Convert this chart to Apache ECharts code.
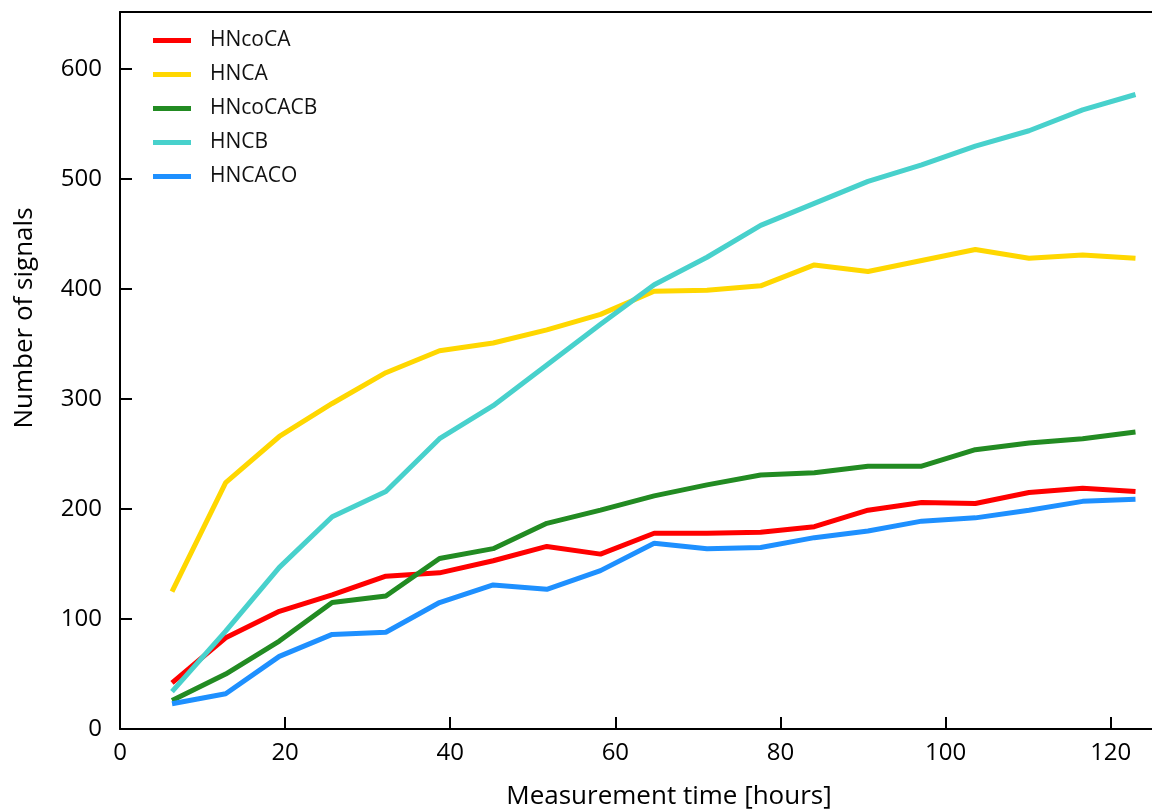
<!DOCTYPE html>
<html>
<head>
<meta charset="utf-8">
<script src="https://cdn.jsdelivr.net/npm/echarts@6/dist/echarts.min.js"></script>
<style>
html,body{margin:0;padding:0;background:#fff;}
#chart{width:1152px;height:809px;}
</style>
</head>
<body>
<div id="chart"></div>
<script>
// Measurement times (hours)
const times = [6.3, 12.8, 19.3, 25.7, 32.2, 38.7, 45.2, 51.7, 58.2, 64.7, 71.1, 77.6, 84.1, 90.6, 97.1, 103.6, 110.1, 116.6, 123.0];
const seriesNames = ['HNcoCA', 'HNCA', 'HNcoCACB', 'HNCB', 'HNCACO'];
const HNcoCA   = [42, 83, 107, 122, 139, 142, 153, 166, 159, 178, 178, 179, 184, 199, 206, 205, 215, 219, 216];
const HNCA     = [125, 224, 266, 296, 324, 344, 351, 363, 377, 398, 399, 403, 422, 416, 426, 436, 428, 431, 428];
const HNcoCACB = [26, 50, 80, 115, 121, 155, 164, 187, 199, 212, 222, 231, 233, 239, 239, 254, 260, 264, 270];
const HNCB     = [34, 89, 147, 193, 216, 264, 294, 331, 368, 404, 429, 458, 478, 498, 513, 530, 544, 563, 577];
const HNCACO   = [23, 32, 66, 86, 88, 115, 131, 127, 144, 169, 164, 165, 174, 180, 189, 192, 199, 207, 209];
const colors = ['#ff0000', '#ffd700', '#228b22', '#48d1cc', '#1e90ff'];
const allValues = [HNcoCA, HNCA, HNcoCACB, HNCB, HNCACO];

const FONT = '"Open Sans", sans-serif';
const chart = echarts.init(document.getElementById('chart'), null, {renderer: 'canvas'});

const series = seriesNames.map((name, i) => ({
  name: name,
  type: 'line',
  data: times.map((t, j) => [t, allValues[i][j]]),
  showSymbol: false,
  symbol: 'none',
  lineStyle: {width: 5, color: colors[i]},
  itemStyle: {color: colors[i]},
  animation: false,
  z: 2 + i
}));

chart.setOption({
  animation: false,
  grid: {left: 120, top: 12, width: 1033, bottom: 80, containLabel: false},
  legend: {
    data: seriesNames,
    orient: 'vertical',
    left: 148,
    top: 25,
    icon: 'rect',
    itemWidth: 38,
    itemHeight: 5,
    itemGap: 13,
    textStyle: {fontFamily: FONT, fontSize: 21, color: '#111', padding: [0, 0, 0, 14]}
  },
  xAxis: [{
    type: 'value',
    min: 0, max: 125, interval: 20,
    axisLine: {show: true, onZero: false, lineStyle: {color: '#000', width: 2}},
    axisTick: {show: true, inside: true, length: 12, lineStyle: {color: '#000', width: 2}},
    axisLabel: {fontFamily: FONT, fontSize: 24, color: '#000', margin: 12, showMaxLabel: false},
    splitLine: {show: false}
  }, {
    type: 'value', position: 'top',
    min: 0, max: 125,
    axisLine: {show: true, onZero: false, lineStyle: {color: '#000', width: 2}},
    axisTick: {show: false}, axisLabel: {show: false}, splitLine: {show: false}
  }],
  yAxis: {
    type: 'value',
    min: 0, max: 652, interval: 100,
    axisLine: {show: true, onZero: false, lineStyle: {color: '#000', width: 2}},
    axisTick: {show: true, inside: true, length: 12, lineStyle: {color: '#000', width: 2}},
    axisLabel: {fontFamily: FONT, fontSize: 24, color: '#000', margin: 18, showMaxLabel: false},
    splitLine: {show: false}
  },
  graphic: [
    {type: 'text', x: 669, y: 797, style: {text: 'Measurement time [hours]', font: '26px "Open Sans", sans-serif', fill: '#000', textAlign: 'center', textVerticalAlign: 'middle'}},
    {type: 'text', x: 25, y: 318, rotation: Math.PI / 2, style: {text: 'Number of signals', font: '26px "Open Sans", sans-serif', fill: '#000', textAlign: 'center', textVerticalAlign: 'middle'}}
  ],
  series: series
});
</script>
</body>
</html>
